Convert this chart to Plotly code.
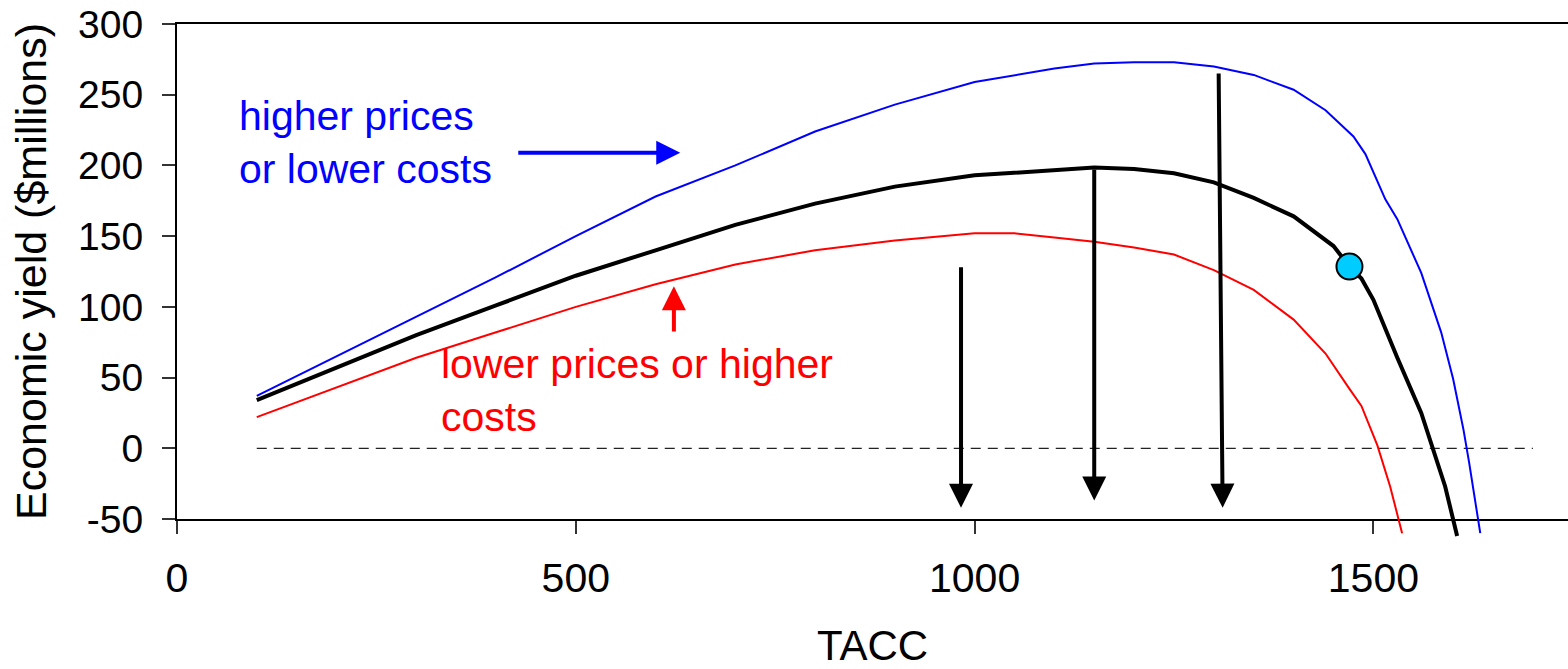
import plotly.graph_objects as go

# ---- data ----
tacc_base = [100, 200, 300, 400, 500, 600, 700, 800, 900, 1000, 1050, 1100, 1150, 1200,
             1250, 1300, 1350, 1400, 1450, 1470, 1485, 1500, 1515, 1530, 1560, 1575, 1590, 1605]
yield_base = [34, 57, 80, 101, 122, 140, 158, 173, 185, 193, 195, 197, 198.5, 197.5,
              194.5, 188, 177, 164, 143, 128.5, 120, 105, 84, 64, 25, 0, -27, -62]

tacc_high = [100, 200, 300, 400, 500, 600, 700, 800, 900, 1000, 1100, 1150, 1200, 1250,
             1300, 1350, 1400, 1440, 1475, 1490, 1515, 1530, 1560, 1585, 1600, 1613, 1620, 1634]
yield_high = [37, 65, 93, 121, 150, 178, 200, 224, 243, 259, 268.5, 272, 273, 273,
              270, 264, 253.5, 239, 220.5, 208, 176, 162, 124, 82, 49, 13, -10, -60]

tacc_low = [100, 200, 300, 400, 500, 600, 700, 800, 900, 1000, 1050, 1100, 1150, 1200,
            1250, 1300, 1350, 1400, 1440, 1470, 1485, 1505, 1510, 1521, 1536]
yield_low = [22, 43, 64, 82, 100, 116, 130, 140, 147, 152, 152, 149, 146, 142,
             137, 126, 112, 91, 67, 42, 30, 2, -7, -27, -60]

zero_x = [100, 1700]
zero_y = [0, 0]

point_x = [1470]
point_y = [128.5]

# arrows: (tail_x, tail_y, tip_x, tip_y)
down_arrows = [(983, 129, 983, -42), (1150, 198, 1150, -37), (1306, 266, 1311, -42)]
blue_arrow = (426, 209, 631, 209)
red_arrow = (623, 81.5, 623, 114.5)

x_ticks = [0, 500, 1000, 1500]
y_ticks = [-50, 0, 50, 100, 150, 200, 250, 300]

X_MAX = 1744
Y_MIN, Y_MAX = -50, 300

# ---- layout geometry ----
W, H = 1568, 669
M_L, M_R, M_T, M_B = 177, 0, 24, 124
plot_h = H - M_T - M_B
axis_h = 495  # pixel height between -50 and 300
px_per_unit = axis_h / (Y_MAX - Y_MIN)
y2_min = Y_MAX - plot_h / px_per_unit
main_dom_bottom = 1 - axis_h / plot_h

FONT = "Liberation Sans, Arial, sans-serif"
BLUE = "#0000FF"
RED = "#FF0000"

fig = go.Figure()

fig.add_trace(go.Scatter(x=zero_x, y=zero_y, mode="lines", xaxis="x", yaxis="y",
                         line=dict(color="#222222", width=1.2, dash="10px,7px"),
                         hoverinfo="skip", showlegend=False))

fig.add_trace(go.Scatter(x=tacc_low, y=yield_low, mode="lines", xaxis="x2", yaxis="y2",
                         line=dict(color=RED, width=2), showlegend=False))
fig.add_trace(go.Scatter(x=tacc_high, y=yield_high, mode="lines", xaxis="x2", yaxis="y2",
                         line=dict(color=BLUE, width=2), showlegend=False))
fig.add_trace(go.Scatter(x=tacc_base, y=yield_base, mode="lines", xaxis="x2", yaxis="y2",
                         line=dict(color="black", width=4), showlegend=False))
fig.add_trace(go.Scatter(x=point_x, y=point_y, mode="markers", xaxis="x2", yaxis="y2",
                         marker=dict(size=26, color="#00CCFF", line=dict(color="black", width=2)),
                         cliponaxis=False, showlegend=False))

annotations = []
def arrow(a, color, width=4):
    tx, ty, hx, hy = a
    return dict(x=hx, y=hy, ax=tx, ay=ty, xref="x", yref="y", axref="x", ayref="y",
                text="", showarrow=True, arrowhead=2, arrowsize=1.2, arrowwidth=width,
                arrowcolor=color, standoff=0, startstandoff=0)

for a in down_arrows:
    annotations.append(arrow(a, "black"))
annotations.append(arrow(blue_arrow, BLUE))
annotations.append(arrow(red_arrow, RED))

annotations.append(dict(x=75, y=216, xref="x", yref="y", xanchor="left", yanchor="middle",
                        text="higher prices<br>or lower costs", showarrow=False, align="left",
                        font=dict(family=FONT, size=41, color=BLUE)))
annotations.append(dict(x=328, y=41, xref="x", yref="y", xanchor="left", yanchor="middle",
                        text="lower prices or higher<br>costs", showarrow=False, align="left",
                        font=dict(family=FONT, size=41, color=RED)))

fig.update_layout(
    width=W, height=H,
    margin=dict(l=M_L, r=M_R, t=M_T, b=M_B, pad=0),
    paper_bgcolor="white", plot_bgcolor="rgba(0,0,0,0)",
    font=dict(family=FONT, size=40, color="black"),
    showlegend=False,
    hovermode=False,
    annotations=annotations,
    xaxis=dict(domain=[0, 1], range=[0, X_MAX], anchor="y",
               tickmode="array", tickvals=x_ticks, ticktext=[str(v) for v in x_ticks],
               ticks="outside", ticklen=13, tickwidth=1.5, tickcolor="#333333",
               showline=True, linecolor="black", linewidth=2, mirror=True,
               showgrid=False, zeroline=False, ticklabelstandoff=9,
               ticklabeloverflow="allow",
               tickfont=dict(family=FONT, size=41, color="black"),
               title=dict(text="TACC", font=dict(family=FONT, size=42, color="black"), standoff=31)),
    yaxis=dict(domain=[main_dom_bottom, 1], range=[Y_MIN, Y_MAX], anchor="x",
               tickmode="array", tickvals=y_ticks, ticktext=[str(v) for v in y_ticks],
               ticks="outside", ticklen=13, tickwidth=1.5, tickcolor="#333333",
               showline=True, linecolor="black", linewidth=2, mirror=False,
               showgrid=False, zeroline=False, ticklabelstandoff=11,
               ticklabeloverflow="allow",
               tickfont=dict(family=FONT, size=39, color="black"),
               title=dict(text="Economic yield ($millions)",
                          font=dict(family=FONT, size=43, color="black"), standoff=18)),
    xaxis2=dict(domain=[0, 1], range=[0, X_MAX], anchor="y2", visible=False,
                showgrid=False, zeroline=False),
    yaxis2=dict(domain=[0, 1], range=[y2_min, Y_MAX], anchor="x2", visible=False,
                showgrid=False, zeroline=False),
)

fig.write_html(
    "out.html",
    config={"displayModeBar": False},
    post_script="document.body.style.margin='0';document.body.style.overflow='hidden';",
)
